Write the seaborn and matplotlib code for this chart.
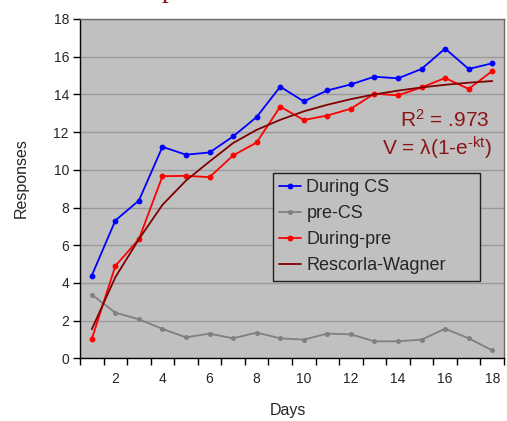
import matplotlib
matplotlib.use("Agg")
import matplotlib.pyplot as plt
import seaborn as sns
import pandas as pd

days = list(range(1, 19))
during_cs = [4.39, 7.31, 8.37, 11.22, 10.80, 10.92, 11.77, 12.80, 14.41, 13.63,
             14.21, 14.53, 14.94, 14.85, 15.35, 16.43, 15.35, 15.65]
pre_cs = [3.38, 2.42, 2.07, 1.56, 1.11, 1.31, 1.06, 1.36, 1.06, 0.99,
          1.31, 1.27, 0.90, 0.90, 0.99, 1.57, 1.06, 0.42]
during_pre = [1.02, 4.90, 6.32, 9.66, 9.68, 9.61, 10.76, 11.45, 13.35, 12.64,
              12.88, 13.24, 14.04, 13.95, 14.37, 14.87, 14.29, 15.24]
rescorla_wagner = [1.54, 4.30, 6.32, 8.14, 9.43, 10.44, 11.42, 12.12, 12.65, 13.10,
                   13.45, 13.75, 14.00, 14.20, 14.37, 14.51, 14.62, 14.71]
series_names = ["During CS", "pre-CS", "During-pre", "Rescorla-Wagner"]
x_tick_labels = [str(d) for d in range(2, 19, 2)]
y_ticks = list(range(0, 19, 2))

sns.set_theme(style="white")
plt.rcParams['font.family'] = ['Liberation Sans', 'DejaVu Sans']
plt.rcParams['mathtext.fontset'] = 'custom'
plt.rcParams['mathtext.rm'] = 'Liberation Sans'
plt.rcParams['mathtext.default'] = 'regular'

fig = plt.figure(figsize=(5.07, 4.21), dpi=100)
ax = fig.add_axes([80 / 507, 1 - 358.3 / 421, 424 / 507, 339.3 / 421])
ax.set_facecolor('#C0C0C0')

df = pd.DataFrame({"Days": days, "During CS": during_cs, "pre-CS": pre_cs,
                   "During-pre": during_pre, "Rescorla-Wagner": rescorla_wagner})

styles = {
    "During CS": dict(color='#0000FF', marker='o', markersize=4.2),
    "pre-CS": dict(color='#808080', marker='o', markersize=3.6),
    "During-pre": dict(color='#FF0000', marker='o', markersize=4.2),
    "Rescorla-Wagner": dict(color='#800000', marker=None),
}
for name in series_names:
    st = styles[name]
    kw = dict(color=st['color'], linewidth=1.3, label=name, ax=ax)
    if st['marker']:
        kw.update(marker='o', markersize=st['markersize'], markeredgewidth=0,
                  markerfacecolor=st['color'])
    sns.lineplot(data=df, x="Days", y=name, **kw)

ax.set_xlim(0.5, 18.5)
ax.set_ylim(0, 18)
ax.set_yticks(y_ticks)
ax.yaxis.grid(True, color='#9A9A9A', linewidth=1)
ax.set_axisbelow(True)

# category boundary ticks (unlabeled) and labels at even days
ax.set_xticks([d + 0.5 for d in range(0, 19)], minor=True)
ax.set_xticks(list(range(2, 19, 2)))
ax.set_xticklabels(x_tick_labels)
ax.tick_params(axis='x', which='major', length=0, labelsize=10, pad=10)
ax.tick_params(axis='x', which='minor', length=5, width=1, color='black', direction='out', bottom=True)
ax.tick_params(axis='y', which='major', length=5, width=1, color='black', direction='out', left=True, labelsize=10, pad=3)

for s in ['left', 'bottom']:
    ax.spines[s].set_color('black')
    ax.spines[s].set_linewidth(1)
for s in ['top', 'right']:
    ax.spines[s].set_color('#6A6A6A')
    ax.spines[s].set_linewidth(1)

ax.set_xlabel("Days", fontsize=11.5)
ax.set_ylabel("Responses", fontsize=11.5)
ax.xaxis.label.set_va('center')
ax.yaxis.label.set_va('center')
ax.yaxis.set_label_coords(-0.138, 0.53)
ax.xaxis.set_label_coords(0.49, -0.155)

leg = ax.legend(loc='upper left', bbox_to_anchor=(0.455, 0.234, 0.488, 0.312), mode='expand',
                fontsize=13, frameon=True, fancybox=False, edgecolor='#202020',
                facecolor='#C0C0C0', framealpha=1, handlelength=1.2, handletextpad=0.3,
                labelspacing=0.5, borderpad=0.35, borderaxespad=0)
leg.get_frame().set_linewidth(1)

red_txt = '#8B1515'
ax.text(0.965, 0.683, "R$^{2}$ = .973", transform=ax.transAxes, ha='right', va='baseline',
        fontsize=15, color=red_txt)
ax.text(0.972, 0.599, r"V = λ(1-e$^{\text{-kt}}$)", transform=ax.transAxes, ha='right', va='baseline',
        fontsize=15, color=red_txt)

fig.text(162 / 507, 1.006, "p", family='Liberation Serif', fontsize=20, color='#8B1515',
         va='baseline', ha='left')

fig.savefig("out.png", dpi=100)
